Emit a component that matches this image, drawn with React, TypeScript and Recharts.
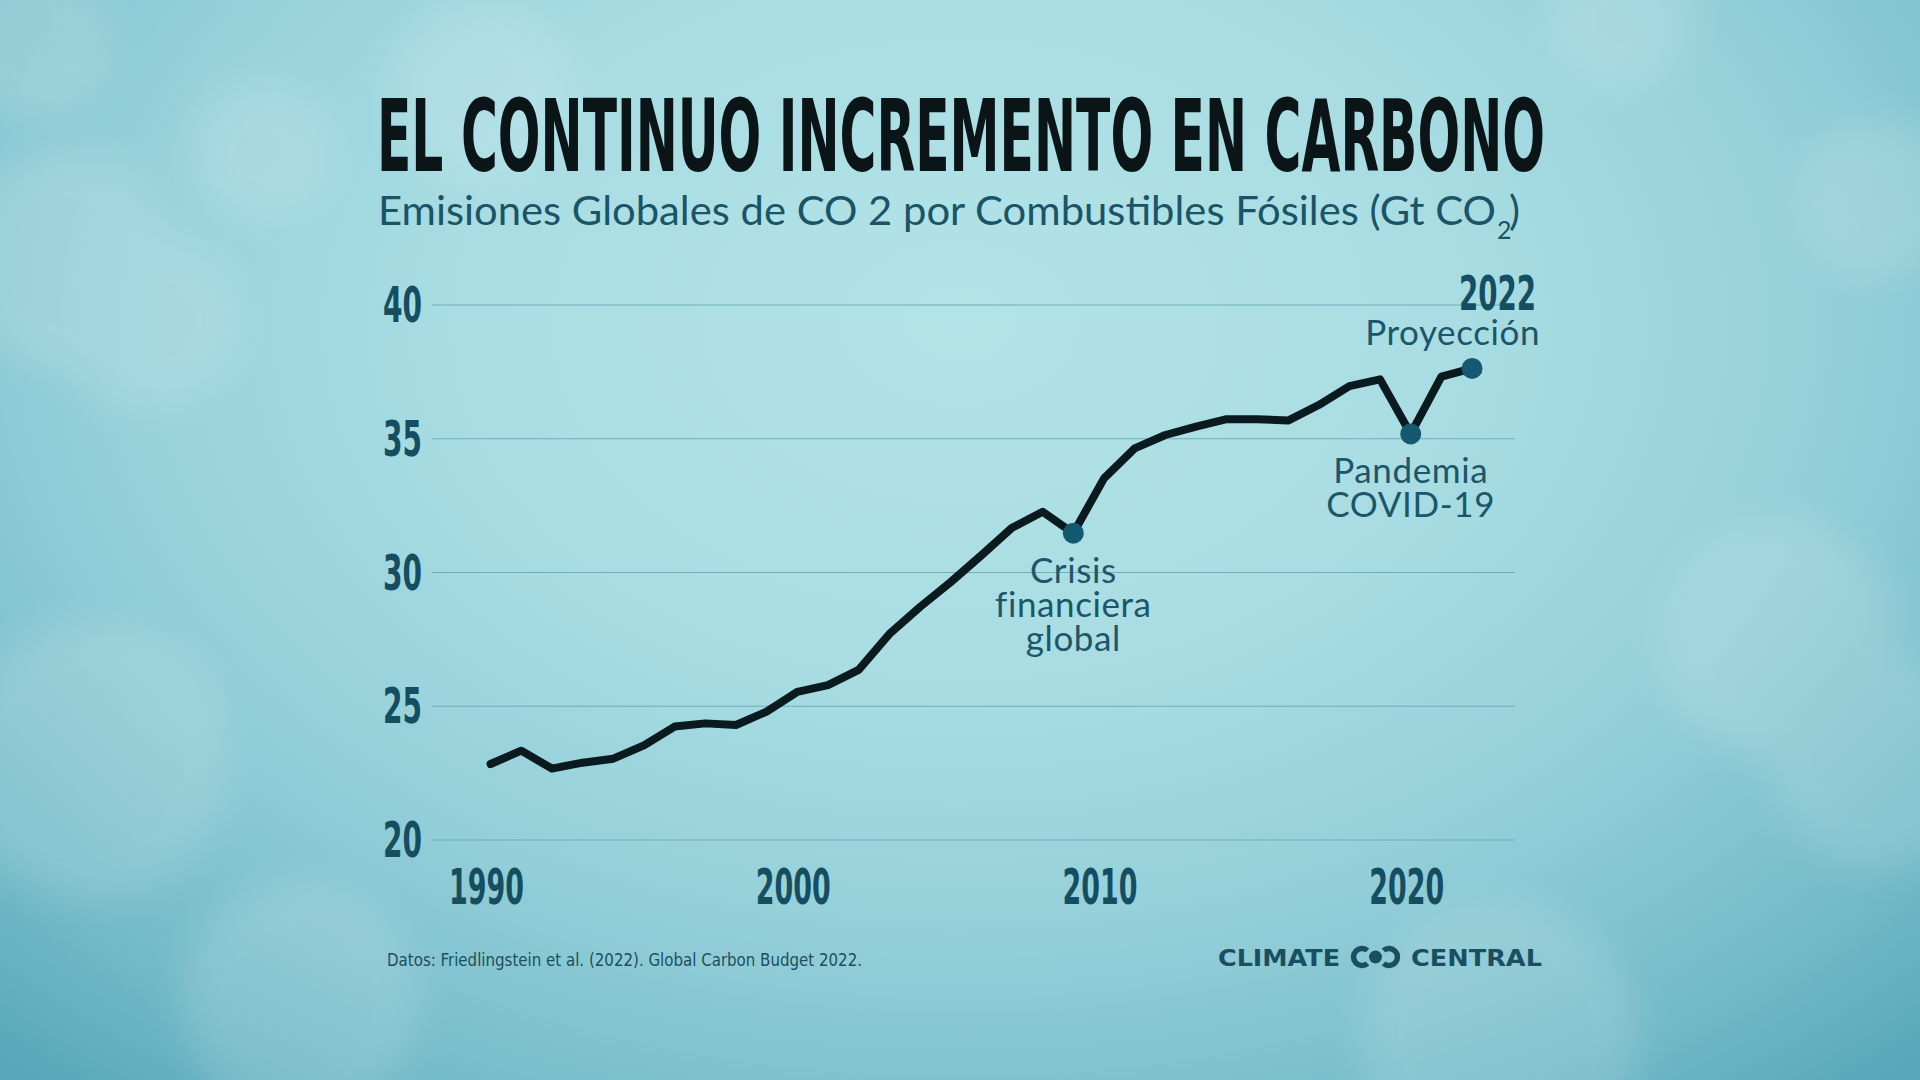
import { LineChart, Line, XAxis, YAxis, CartesianGrid } from 'recharts';

const years = [
  1990, 1991, 1992, 1993, 1994, 1995, 1996, 1997, 1998, 1999, 2000,
  2001, 2002, 2003, 2004, 2005, 2006, 2007, 2008, 2009, 2010,
  2011, 2012, 2013, 2014, 2015, 2016, 2017, 2018, 2019, 2020,
  2021, 2022,
];

// Gt CO2
const emissions = [
  22.84, 23.34, 22.67, 22.89, 23.04, 23.54, 24.24, 24.36, 24.3, 24.8, 25.54,
  25.79, 26.36, 27.7, 28.71, 29.64, 30.64, 31.67, 32.27, 31.47, 33.52,
  34.64, 35.14, 35.45, 35.73, 35.73, 35.68, 36.26, 36.97, 37.22, 35.18,
  37.32, 37.63,
];

const yearTicks = [1990, 2000, 2010, 2020];
const valueTicks = [20, 25, 30, 35, 40];

const highlightYears = [2009, 2020, 2022];
const crisisLines = ['Crisis', 'financiera', 'global'];
const covidLines = ['Pandemia', 'COVID-19'];
const projectionYear = '2022';
const projectionLabel = 'Proyección';

const data = years.map((year, i) => ({ year, value: emissions[i] }));

const NARROW = "'Liberation Sans Narrow', 'DejaVu Sans Condensed', sans-serif";
const SANS = "Lato, 'Open Sans', sans-serif";
const TEAL = '#164e61';
const LABEL = '#1b5669';

function YTick({ x, y, payload }: any) {
  return (
    <text
      x={x - 49}
      y={y + 17}
      fontFamily={NARROW}
      fontWeight={700}
      fontSize={50}
      textLength={39}
      lengthAdjust="spacingAndGlyphs"
      fill={TEAL}
    >
      {payload.value}
    </text>
  );
}

function XTick({ x, y, payload }: any) {
  return (
    <text
      x={x - 4}
      y={y + 64}
      textAnchor="middle"
      fontFamily={NARROW}
      fontWeight={700}
      fontSize={50}
      textLength={75}
      lengthAdjust="spacingAndGlyphs"
      fill={TEAL}
    >
      {payload.value}
    </text>
  );
}

// note text under/over the highlighted points
function Note({ x, y, anchor, children }: any) {
  return (
    <text
      x={x}
      y={y}
      textAnchor={anchor}
      fontFamily={SANS}
      fontSize={35}
      letterSpacing={0.6}
      fill={LABEL}
    >
      {children}
    </text>
  );
}

function HighlightDot({ cx, cy, payload }: any) {
  if (!highlightYears.includes(payload.year)) {
    return <g key={`d-${payload.year}`} />;
  }
  const annotation =
    payload.year === 2009 ? (
      crisisLines.map((t, i) => (
        <Note key={t} x={cx} y={cy + 50 + i * 34} anchor="middle">
          {t}
        </Note>
      ))
    ) : payload.year === 2020 ? (
      covidLines.map((t, i) => (
        <Note key={t} x={cx} y={cy + 49 + i * 34} anchor="middle">
          {t}
        </Note>
      ))
    ) : (
      <>
        <text
          x={cx - 13}
          y={cy - 58}
          fontFamily={NARROW}
          fontWeight={700}
          fontSize={48}
          textLength={77}
          lengthAdjust="spacingAndGlyphs"
          fill={TEAL}
        >
          {projectionYear}
        </text>
        <Note x={cx + 68} y={cy - 23} anchor="end">
          {projectionLabel}
        </Note>
      </>
    );
  return (
    <g key={`d-${payload.year}`}>
      <circle cx={cx} cy={cy} r={10.5} fill="#155970" />
      {annotation}
    </g>
  );
}

function Clouds() {
  const puffs = [
    [60, 260, 110], [150, 320, 90], [30, 40, 80], [260, 150, 70], [1880, 200, 80],
    [1780, 640, 120], [1880, 760, 110], [90, 760, 140], [300, 1000, 120], [1500, 1040, 140],
    [480, 90, 90], [1620, 20, 70],
  ];
  return (
    <svg width={1920} height={1080} style={{ position: 'absolute', left: 0, top: 0 }}>
      <defs>
        <filter id="soft" x="-50%" y="-50%" width="200%" height="200%">
          <feGaussianBlur stdDeviation="18" />
        </filter>
      </defs>
      <g filter="url(#soft)" fill="#ffffff" opacity={0.13}>
        {puffs.map(([cx, cy, r], i) => (
          <circle key={i} cx={cx} cy={cy} r={r} />
        ))}
      </g>
    </svg>
  );
}

function Overlay() {
  return (
    <svg width={1920} height={1080} style={{ position: 'absolute', left: 0, top: 0, pointerEvents: 'none' }}>
      <text
        x={377}
        y={171}
        fontFamily={NARROW}
        fontWeight={700}
        fontSize={99}
        textLength={1168}
        lengthAdjust="spacingAndGlyphs"
        fill="#0b1518"
      >
        EL CONTINUO INCREMENTO EN CARBONO
      </text>
      <text
        x={378}
        y={225}
        fontFamily={SANS}
        fontSize={41}
        textLength={1118}
        lengthAdjust="spacingAndGlyphs"
        fill="#1a5467"
      >
        Emisiones Globales de CO 2 por Combustibles Fósiles (Gt CO
      </text>
      <text x={1497} y={239} fontFamily={SANS} fontSize={25} fill="#1a5467">
        2
      </text>
      <text x={1509} y={225} fontFamily={SANS} fontSize={41} fill="#1a5467">
        )
      </text>

      <text
        x={387}
        y={966}
        fontFamily={NARROW}
        fontSize={18}
        textLength={475}
        lengthAdjust="spacingAndGlyphs"
        fill="#1d4f60"
      >
        Datos: Friedlingstein et al. (2022). Global Carbon Budget 2022.
      </text>

      <g fill="#1a4f61">
        <text
          x={1218}
          y={966}
          fontFamily="'DejaVu Sans', sans-serif"
          fontWeight={700}
          fontSize={23}
          textLength={122}
          lengthAdjust="spacingAndGlyphs"
        >
          CLIMATE
        </text>
        <text
          x={1411}
          y={966}
          fontFamily="'DejaVu Sans', sans-serif"
          fontWeight={700}
          fontSize={23}
          textLength={131}
          lengthAdjust="spacingAndGlyphs"
        >
          CENTRAL
        </text>
      </g>
      <g stroke="#1a4f61" strokeWidth={5.5} fill="none" strokeLinecap="butt">
        <path d="M 1367.5 950.5 A 8.5 8.5 0 1 0 1367.5 963.5" />
        <path d="M 1383.5 950.5 A 8.5 8.5 0 1 1 1383.5 963.5" />
      </g>
      <circle cx={1375.5} cy={957} r={6.5} fill="#1a4f61" />
    </svg>
  );
}

export default function App() {
  return (
    <div
      style={{
        position: 'absolute',
        left: 0,
        top: 0,
        width: 1920,
        height: 1080,
        overflow: 'hidden',
        background:
          'radial-gradient(ellipse 74% 92% at 50% 30%, #b2e3e7 0%, #a9dde3 35%, #94cfd9 62%, #74bbc8 85%, #57a8b9 100%)',
      }}
    >
      <Clouds />
      <div style={{ position: 'absolute', left: 0, top: 0 }}>
        <LineChart
          width={1920}
          height={1080}
          data={data}
          margin={{ top: 305, right: 405, bottom: 180, left: 372 }}
        >
          <CartesianGrid vertical={false} stroke="#6fadbb" strokeWidth={1.2} />
          <XAxis
            type="number"
            dataKey="year"
            domain={[1988.09, 2023.4]}
            ticks={yearTicks}
            axisLine={false}
            tickLine={false}
            tickSize={0}
            tickMargin={0}
            height={60}
            tick={<XTick />}
            interval={0}
          />
          <YAxis
            domain={[20, 40]}
            ticks={valueTicks}
            axisLine={false}
            tickLine={false}
            tickSize={0}
            tickMargin={0}
            width={60}
            tick={<YTick />}
            interval={0}
          />
          <Line
            type="linear"
            dataKey="value"
            stroke="#0b1a1f"
            strokeWidth={8}
            strokeLinejoin="round"
            strokeLinecap="round"
            dot={(p: any) => <HighlightDot key={`dot-${p.payload.year}`} {...p} />}
            activeDot={false}
            isAnimationActive={false}
          />
        </LineChart>
      </div>
      <Overlay />
    </div>
  );
}
